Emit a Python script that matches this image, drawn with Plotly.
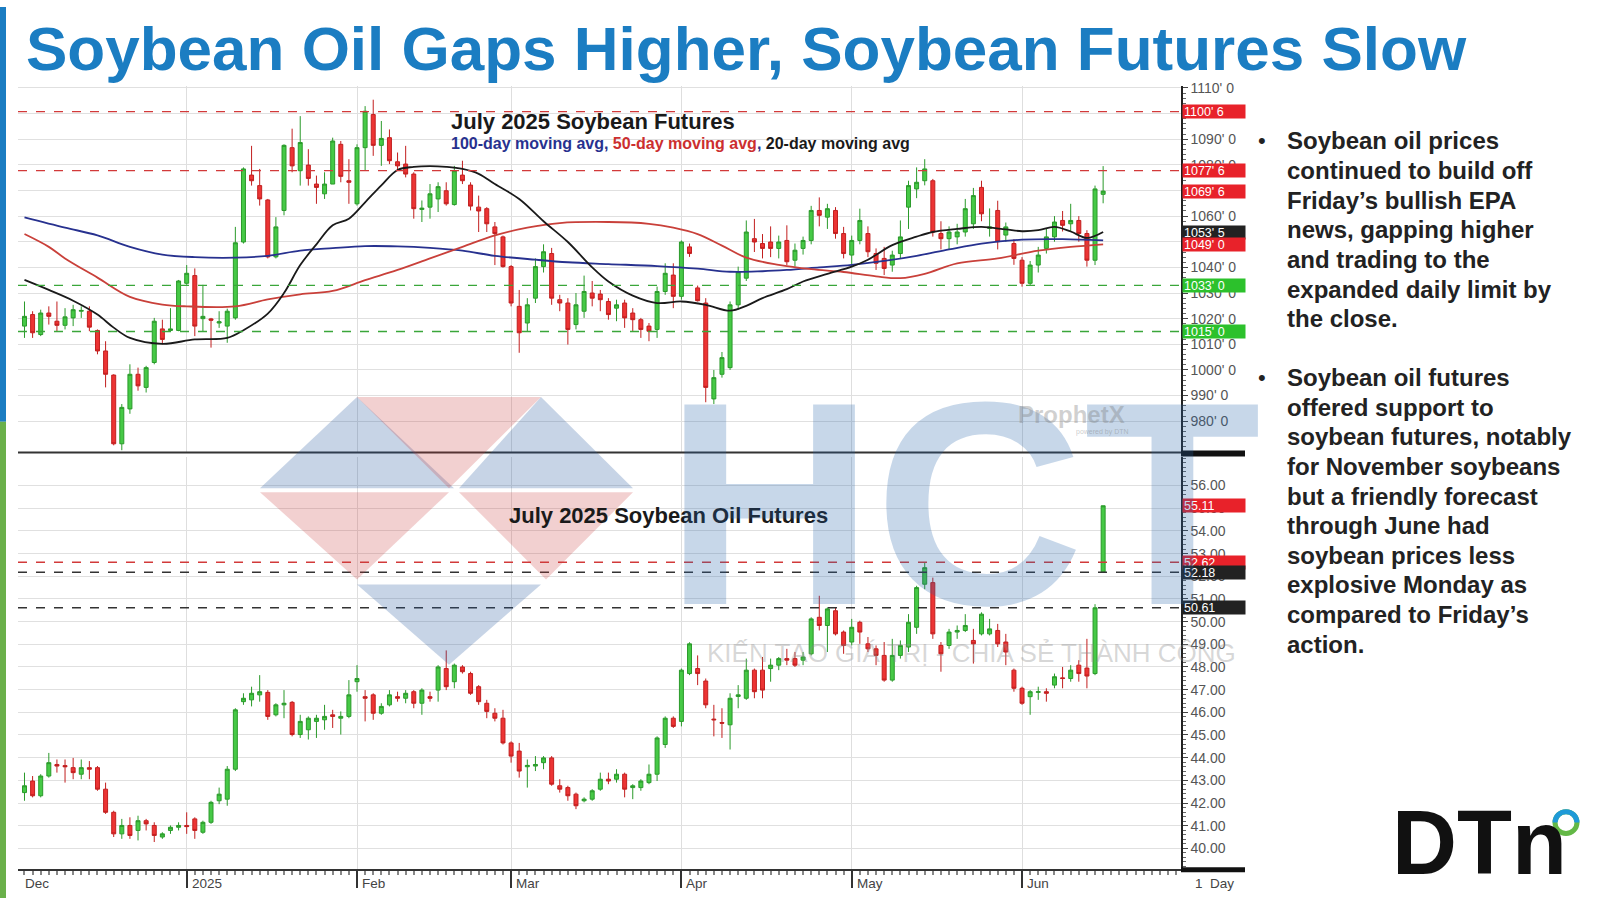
import pandas as pd
import plotly.graph_objects as go

FONT = "Liberation Sans, Arial, sans-serif"
W, H = 1600, 898

# ---------------- calendar (trading days shown on the chart) ----------------
holidays = ["2024-12-25", "2025-01-01", "2025-01-20", "2025-02-17", "2025-04-18", "2025-05-26"]
trade_dates = [d for d in pd.bdate_range("2024-12-03", "2025-06-16") if d.strftime("%Y-%m-%d") not in holidays]
day = list(range(len(trade_dates)))
month_labels = ["2025", "Feb", "Mar", "Apr", "May", "Jun"]

# ---------------- July 2025 Soybean futures (cents/bu) ----------------
soy_open = [
    1017.1, 1021.6, 1013.8, 1022.2, 1019.0, 1017.4, 1020.3, 1022.9, 1022.9, 1015.4,
    1007.4, 998.0, 971.2, 984.8, 998.3, 993.2, 1002.9, 1016.0, 1015.4, 1015.4,
    1033.8, 1036.8, 1020.0, 1019.9, 1018.3, 1017.1, 1020.3, 1049.9, 1076.0, 1071.9,
    1066.3, 1044.1, 1062.2, 1086.7, 1077.7, 1079.9, 1072.5, 1068.7, 1072.5, 1088.0,
    1073.8, 1064.8, 1086.7, 1099.6, 1087.6, 1090.6, 1081.2, 1080.3, 1076.4, 1062.6,
    1063.5, 1066.7, 1069.9, 1064.5, 1076.0, 1072.1, 1063.5, 1062.9, 1055.8, 1051.9,
    1040.3, 1024.8, 1018.3, 1028.0, 1040.3, 1045.4, 1027.4, 1026.1, 1017.7, 1022.9,
    1030.0, 1029.6, 1026.7, 1024.1, 1026.1, 1022.2, 1019.6, 1017.1, 1015.8, 1030.6,
    1037.0, 1028.7, 1048.0, 1032.0, 1026.1, 988.7, 998.3, 1000.9, 1025.4, 1035.8,
    1051.2, 1049.3, 1049.9, 1047.4, 1050.5, 1042.8, 1047.4, 1050.5, 1062.2, 1059.6,
    1062.2, 1053.2, 1044.8, 1050.5, 1053.2, 1045.4, 1043.5, 1040.9, 1045.4, 1063.5,
    1070.6, 1073.8, 1073.8, 1053.2, 1051.2, 1051.9, 1053.8, 1057.0, 1071.2, 1055.2,
    1062.2, 1052.6, 1049.3, 1042.8, 1033.8, 1040.9, 1047.4, 1051.9, 1058.3, 1057.0,
    1058.3, 1053.2, 1042.8, 1068.5]
soy_high = [
    1026.7, 1022.9, 1023.5, 1024.8, 1026.7, 1024.1, 1025.4, 1024.8, 1024.8, 1015.8,
    1011.2, 998.3, 986.7, 1002.2, 1000.9, 1001.6, 1020.3, 1019.6, 1024.1, 1035.1,
    1040.9, 1039.6, 1033.2, 1020.3, 1022.9, 1023.9, 1055.8, 1079.0, 1087.4, 1078.4,
    1066.7, 1059.6, 1088.0, 1094.1, 1099.0, 1086.1, 1075.8, 1077.1, 1090.6, 1089.3,
    1082.2, 1088.0, 1102.9, 1105.4, 1097.1, 1093.8, 1084.8, 1087.4, 1077.1, 1066.1,
    1072.5, 1073.2, 1073.2, 1079.6, 1081.6, 1073.2, 1068.0, 1063.5, 1057.7, 1052.4,
    1040.9, 1031.2, 1028.0, 1043.5, 1049.0, 1047.6, 1029.3, 1028.0, 1030.0, 1036.8,
    1034.7, 1031.2, 1028.0, 1027.4, 1027.4, 1024.1, 1020.3, 1018.3, 1032.5, 1041.6,
    1041.6, 1050.5, 1049.3, 1032.9, 1028.0, 1000.0, 1007.0, 1026.7, 1040.3, 1058.3,
    1058.9, 1053.0, 1056.0, 1052.4, 1056.4, 1049.3, 1052.0, 1064.0, 1067.3, 1064.8,
    1063.5, 1055.8, 1052.4, 1062.9, 1056.0, 1047.4, 1048.0, 1046.5, 1058.3, 1073.8,
    1079.0, 1082.2, 1074.5, 1058.0, 1056.0, 1057.0, 1066.7, 1071.0, 1073.8, 1063.0,
    1066.0, 1057.5, 1051.0, 1044.0, 1042.5, 1048.0, 1055.0, 1060.0, 1062.0, 1064.8,
    1060.0, 1054.5, 1071.9, 1079.5]
soy_low = [
    1012.5, 1012.5, 1013.2, 1017.7, 1015.1, 1015.8, 1017.1, 1020.3, 1015.1, 1006.1,
    993.2, 970.6, 968.7, 982.9, 991.9, 991.2, 1002.2, 1010.0, 1015.1, 1015.1,
    1033.2, 1013.2, 1015.1, 1008.7, 1016.4, 1010.6, 1019.6, 1049.3, 1071.9, 1064.1,
    1043.5, 1043.5, 1060.3, 1077.1, 1071.9, 1071.9, 1064.8, 1066.7, 1072.5, 1073.2,
    1064.8, 1064.1, 1077.7, 1083.5, 1079.6, 1080.3, 1077.7, 1075.1, 1059.0, 1057.7,
    1059.0, 1061.6, 1064.1, 1064.1, 1072.5, 1062.2, 1053.8, 1053.8, 1040.9, 1039.9,
    1024.8, 1006.7, 1015.1, 1026.1, 1038.0, 1025.4, 1022.9, 1009.9, 1015.8, 1020.3,
    1024.8, 1022.9, 1019.6, 1019.0, 1016.4, 1015.1, 1012.5, 1011.2, 1012.5, 1029.3,
    1024.1, 1027.4, 1044.1, 1026.7, 987.4, 986.7, 997.0, 1000.0, 1023.5, 1034.7,
    1046.0, 1043.5, 1044.0, 1043.5, 1040.9, 1040.3, 1045.0, 1049.0, 1056.0, 1055.0,
    1051.2, 1043.5, 1040.3, 1049.0, 1044.0, 1039.0, 1037.0, 1038.3, 1043.5, 1055.0,
    1067.0, 1072.0, 1052.0, 1047.0, 1047.0, 1049.0, 1052.0, 1055.0, 1058.0, 1052.0,
    1047.0, 1050.0, 1041.0, 1032.5, 1033.0, 1038.0, 1045.4, 1050.0, 1054.0, 1054.0,
    1050.0, 1040.3, 1040.9, 1065.0]
soy_close = [
    1020.9, 1014.5, 1022.2, 1020.9, 1017.4, 1020.7, 1023.5, 1023.2, 1016.7, 1007.4,
    998.3, 971.2, 985.4, 998.3, 993.8, 1000.9, 1019.0, 1011.9, 1016.0, 1034.7,
    1037.7, 1017.1, 1020.9, 1019.4, 1018.8, 1022.9, 1049.6, 1078.4, 1073.8, 1066.7,
    1044.1, 1055.8, 1087.6, 1079.6, 1088.7, 1074.7, 1071.2, 1072.5, 1089.3, 1075.5,
    1073.2, 1086.7, 1100.9, 1087.6, 1090.3, 1081.6, 1079.6, 1076.4, 1062.9, 1063.1,
    1068.7, 1071.5, 1064.8, 1077.7, 1073.8, 1063.9, 1062.0, 1057.0, 1053.2, 1040.3,
    1026.1, 1014.5, 1025.4, 1040.3, 1046.1, 1028.0, 1026.1, 1015.8, 1025.4, 1030.6,
    1028.0, 1027.4, 1021.6, 1025.4, 1020.3, 1019.6, 1015.8, 1015.1, 1030.6, 1037.7,
    1028.7, 1049.9, 1045.4, 1027.0, 993.2, 997.0, 1004.8, 1025.4, 1038.3, 1053.8,
    1049.9, 1047.4, 1047.4, 1049.9, 1042.2, 1046.7, 1050.5, 1062.2, 1060.3, 1062.9,
    1053.2, 1045.4, 1050.5, 1058.3, 1046.1, 1041.6, 1039.6, 1044.8, 1051.9, 1071.9,
    1073.2, 1078.4, 1053.8, 1051.2, 1053.8, 1053.8, 1062.9, 1068.0, 1060.9, 1055.8,
    1050.0, 1055.8, 1043.5, 1033.8, 1040.9, 1044.8, 1051.9, 1057.7, 1056.4, 1058.3,
    1053.2, 1042.8, 1070.6, 1069.75]

# moving averages (trading-day index, value)
ma100_days = [0, 5, 9, 13, 17, 21, 26, 30, 34, 38, 42, 46, 50, 54, 58, 63, 67, 72, 78, 83, 87, 91, 94, 98, 102, 106, 110, 114, 118, 123, 128, 133]
ma100_vals = [1059.5, 1055.5, 1052.5, 1048.0, 1045.0, 1044.0, 1043.8, 1044.5, 1046.5, 1047.5, 1048.3, 1048.2, 1047.6, 1046.5, 1044.5, 1043.0, 1042.0, 1041.3, 1040.5, 1039.5, 1038.3, 1038.5, 1039.0, 1040.0, 1041.0, 1042.5, 1044.5, 1047.0, 1049.3, 1050.8, 1051.0, 1050.5]
ma50_days = [0, 3, 5, 9, 13, 17, 20, 26, 30, 34, 38, 42, 46, 50, 54, 58, 62, 66, 72, 77, 80, 83, 86, 89, 93, 97, 101, 105, 108, 111, 115, 120, 125, 129, 133]
ma50_vals = [1053.0, 1048.0, 1043.5, 1036.0, 1028.5, 1025.5, 1024.8, 1024.8, 1027.5, 1029.5, 1030.8, 1035.0, 1039.0, 1043.5, 1048.0, 1052.5, 1055.5, 1057.3, 1057.7, 1057.0, 1055.5, 1053.0, 1048.5, 1043.8, 1041.0, 1039.3, 1038.2, 1036.5, 1035.8, 1037.5, 1041.6, 1043.5, 1046.5, 1048.0, 1049.0]
ma20_days = [0, 3, 6, 9, 11, 13, 17, 21, 25, 27, 30, 32, 34, 36, 38, 40, 42, 44, 46, 48, 50, 52, 54, 56, 58, 61, 64, 67, 70, 72, 75, 78, 81, 84, 87, 89, 91, 94, 96, 99, 102, 104, 107, 110, 112, 115, 118, 121, 123, 125, 127, 129, 131, 133]
ma20_vals = [1035.1, 1031.2, 1027.0, 1021.6, 1016.5, 1012.5, 1010.2, 1011.9, 1012.5, 1015.5, 1022.0, 1030.0, 1040.9, 1049.0, 1056.4, 1059.0, 1065.4, 1072.0, 1078.0, 1079.2, 1079.5, 1079.2, 1078.4, 1076.5, 1072.5, 1066.7, 1058.0, 1049.9, 1040.0, 1034.5, 1029.0, 1026.1, 1026.7, 1025.4, 1023.1, 1025.0, 1028.0, 1031.5, 1034.5, 1037.5, 1040.3, 1043.0, 1048.7, 1052.0, 1053.8, 1055.0, 1055.8, 1054.8, 1054.1, 1054.5, 1055.8, 1054.0, 1051.5, 1053.8]

# ---------------- July 2025 Soybean Oil futures (cents/lb) ----------------
oil_open = [
    42.46, 42.97, 42.32, 43.19, 43.70, 43.65, 43.56, 43.27, 43.56, 43.56,
    42.61, 41.59, 40.64, 41.01, 40.79, 41.22, 41.01, 40.50, 40.79, 40.93,
    41.01, 41.30, 40.71, 41.15, 42.10, 42.17, 43.49, 46.47, 46.55, 46.77,
    46.88, 45.89, 46.33, 46.44, 45.02, 45.23, 45.60, 45.67, 45.89, 45.74,
    45.82, 47.35, 46.69, 46.77, 45.96, 46.33, 46.69, 46.62, 46.91, 46.40,
    46.69, 46.98, 47.93, 47.35, 48.00, 47.71, 47.13, 46.40, 45.96, 45.74,
    44.65, 44.29, 43.60, 43.63, 43.78, 43.99, 42.76, 42.68, 42.39, 42.10,
    42.17, 42.61, 43.05, 43.05, 43.27, 42.68, 42.68, 42.90, 43.27, 44.58,
    45.74, 45.60, 47.71, 47.93, 47.38, 45.70, 45.55, 45.45, 46.70, 46.62,
    47.86, 47.86, 47.93, 48.08, 48.37, 48.37, 48.30, 48.58, 50.19, 49.83,
    50.48, 49.54, 49.10, 49.97, 49.02, 48.80, 48.51, 47.42, 48.51, 48.88,
    49.75, 51.65, 51.72, 48.95, 48.95, 49.54, 49.61, 49.17, 49.46, 49.46,
    49.61, 49.10, 47.86, 47.06, 46.69, 46.88, 46.91, 47.20, 47.52, 47.49,
    48.08, 47.95, 47.71, 52.18]
oil_high = [
    43.34, 43.19, 43.27, 44.21, 43.92, 43.92, 43.99, 43.92, 43.85, 43.63,
    42.90, 41.66, 41.30, 41.37, 41.44, 41.30, 41.15, 40.71, 41.01, 41.15,
    41.59, 41.37, 41.22, 42.10, 42.68, 43.63, 46.18, 46.84, 47.13, 47.64,
    46.98, 46.40, 46.98, 46.50, 45.89, 45.82, 45.89, 46.33, 46.11, 46.04,
    47.42, 48.08, 46.98, 46.84, 46.40, 46.98, 46.91, 46.98, 46.98, 47.06,
    46.91, 48.08, 48.73, 48.15, 48.08, 47.79, 47.20, 46.55, 46.18, 46.11,
    44.72, 44.65, 43.92, 44.07, 44.07, 44.07, 43.05, 42.76, 42.46, 42.25,
    42.61, 43.34, 43.34, 43.49, 43.34, 42.83, 43.05, 43.70, 44.94, 45.82,
    45.82, 47.93, 49.09, 48.51, 47.49, 46.33, 46.18, 46.84, 47.20, 48.37,
    47.93, 48.44, 48.37, 48.44, 48.80, 48.66, 48.66, 50.19, 51.14, 50.63,
    50.63, 49.61, 50.12, 50.04, 49.32, 48.95, 49.10, 49.24, 49.17, 50.33,
    51.58, 52.62, 51.94, 49.10, 49.68, 49.83, 50.33, 49.68, 50.41, 50.12,
    49.90, 49.46, 47.93, 47.13, 46.98, 47.13, 47.06, 47.71, 48.00, 48.08,
    48.30, 49.24, 50.77, 55.11]
oil_low = [
    42.10, 42.25, 42.25, 43.12, 43.34, 42.90, 43.05, 43.05, 43.05, 42.54,
    41.52, 40.50, 40.42, 40.42, 40.35, 40.79, 40.28, 40.42, 40.64, 40.79,
    40.64, 40.42, 40.64, 41.08, 41.95, 41.88, 43.41, 46.33, 46.26, 46.47,
    45.67, 45.82, 45.74, 44.94, 44.87, 44.80, 44.87, 45.23, 45.31, 45.02,
    45.74, 46.91, 45.60, 45.67, 45.89, 46.26, 46.47, 46.40, 46.18, 45.89,
    46.47, 46.47, 46.98, 47.06, 47.71, 46.77, 46.33, 45.74, 45.60, 44.58,
    43.78, 43.12, 42.68, 43.41, 43.49, 42.76, 42.46, 42.10, 41.73, 42.03,
    42.10, 42.54, 42.83, 42.90, 42.25, 42.17, 42.54, 42.83, 42.97, 44.43,
    45.31, 45.38, 47.64, 47.20, 46.18, 44.94, 44.87, 44.36, 46.18, 46.55,
    46.62, 46.62, 47.35, 47.86, 48.08, 48.00, 48.08, 48.51, 49.61, 48.66,
    49.39, 48.58, 48.95, 49.02, 48.66, 48.08, 47.35, 47.35, 48.37, 48.66,
    49.46, 51.43, 49.24, 47.79, 48.80, 49.24, 49.54, 48.15, 49.39, 49.39,
    48.88, 48.08, 46.91, 46.33, 45.89, 46.55, 46.47, 47.06, 47.06, 47.35,
    47.35, 47.06, 47.64, 52.18]
oil_close = [
    42.76, 42.32, 43.19, 43.78, 43.63, 43.60, 43.34, 43.56, 43.49, 42.61,
    41.59, 40.64, 41.01, 40.57, 41.22, 41.08, 40.57, 40.64, 40.93, 41.01,
    40.96, 40.79, 41.15, 42.03, 42.39, 43.49, 46.11, 46.62, 46.84, 46.91,
    45.82, 46.33, 46.40, 45.02, 45.60, 45.74, 45.74, 45.82, 45.82, 45.82,
    46.77, 47.49, 46.62, 45.96, 46.26, 46.77, 46.62, 46.84, 46.40, 46.98,
    46.62, 48.00, 47.13, 48.08, 47.79, 46.84, 46.47, 46.04, 45.74, 44.65,
    44.07, 43.41, 43.66, 43.70, 43.99, 42.83, 42.61, 42.32, 41.88, 42.17,
    42.54, 43.05, 42.97, 43.27, 42.61, 42.76, 42.97, 43.27, 44.87, 45.74,
    45.38, 47.86, 49.02, 47.71, 46.33, 45.67, 45.52, 46.62, 46.77, 47.86,
    46.91, 46.98, 48.08, 48.37, 48.30, 48.08, 48.44, 50.12, 49.83, 50.56,
    49.46, 48.95, 49.75, 49.54, 48.80, 48.51, 47.42, 48.51, 48.95, 49.97,
    51.50, 52.38, 49.46, 48.58, 49.54, 49.61, 49.83, 49.02, 50.33, 49.68,
    49.02, 48.66, 47.06, 46.40, 46.91, 46.91, 46.84, 47.57, 47.49, 47.86,
    47.71, 47.60, 50.61, 55.11]

# reference lines and last-value boxes
soy_lines = [(1100.75, "red"), (1077.75, "red"), (1033.0, "green"), (1015.0, "green")]
soy_boxes = [("1100' 6", 1100.75, "red"), ("1077' 6", 1077.75, "red"), ("1069' 6", 1069.75, "red"),
             ("1053' 5", 1053.625, "black"), ("1049' 0", 1049.0, "red"), ("1033' 0", 1033.0, "green"),
             ("1015' 0", 1015.0, "green")]
oil_lines = [(52.62, "red"), (52.18, "black"), (50.61, "black")]
oil_boxes = [("55.11", 55.11, "red"), ("52.62", 52.62, "red"), ("52.18", 52.18, "black"), ("50.61", 50.61, "black")]

soy_ticks = list(range(980, 1111, 10))
oil_ticks = list(range(40, 57))

bullets = [
    ["Soybean oil prices", "continued to build off", "Friday\u2019s bullish EPA", "news, gapping higher",
     "and trading to the", "expanded daily limit by", "the close."],
    ["Soybean oil futures", "offered support to", "soybean futures, notably", "for November soybeans",
     "but a friendly forecast", "through June had", "soybean prices less", "explosive Monday as",
     "compared to Friday\u2019s", "action."],
]

# ---------------- helpers ----------------
def px(x):
    return x / W


def py(y):
    return 1 - y / H


LINE_COL = {"red": "#d23a3a", "green": "#3aa63a", "black": "#333333"}
BOX_COL = {"red": "#e8222a", "green": "#2cc12c", "black": "#222222"}

X_DOM = [px(18), px(1181)]
TOP_DOM = [py(449), py(80)]
BOT_DOM = [py(869), py(454)]
XR = [-0.8, 142.6]

month_idx = []
for i in range(1, len(trade_dates)):
    if trade_dates[i].month != trade_dates[i - 1].month:
        month_idx.append(i)

fig = go.Figure()

inc = dict(line=dict(color="#2a9a2a", width=1), fillcolor="#46c946")
dec = dict(line=dict(color="#c21f1f", width=1), fillcolor="#ec3434")
hov = [d.strftime("%Y-%m-%d") for d in trade_dates]

fig.add_trace(go.Candlestick(x=day, open=soy_open, high=soy_high, low=soy_low, close=soy_close,
                             increasing=inc, decreasing=dec, whiskerwidth=0, text=hov,
                             xaxis="x", yaxis="y", showlegend=False, name="Soybeans"))
for d, v, c, nm in [(ma100_days, ma100_vals, "#27318f", "100-day"),
                    (ma50_days, ma50_vals, "#c9403a", "50-day"),
                    (ma20_days, ma20_vals, "#1a1a1a", "20-day")]:
    fig.add_trace(go.Scatter(x=d, y=v, mode="lines", line=dict(color=c, width=1.8, shape="spline", smoothing=1.0),
                             xaxis="x", yaxis="y", showlegend=False, name=nm, hoverinfo="skip"))

fig.add_trace(go.Candlestick(x=day, open=oil_open, high=oil_high, low=oil_low, close=oil_close,
                             increasing=inc, decreasing=dec, whiskerwidth=0, text=hov,
                             xaxis="x2", yaxis="y2", showlegend=False, name="Soybean Oil"))

TICKFONT = dict(family=FONT, size=14, color="#555")
axis_common = dict(range=XR, domain=X_DOM, tickmode="array", tickvals=month_idx,
                   showgrid=True, gridcolor="#dedede", gridwidth=1.2, zeroline=False,
                   rangeslider=dict(visible=False))
fig.update_layout(
    xaxis=dict(**axis_common, anchor="y", showticklabels=False, ticks=""),
    xaxis2=dict(**axis_common, anchor="y2", showticklabels=False, ticks="outside", ticklen=17,
                tickwidth=1.5, tickcolor="#333", showline=True, linecolor="#333", linewidth=1.5,
                minor=dict(dtick=1, tick0=0, ticks="outside", ticklen=4, tickcolor="#888", showgrid=False)),
    yaxis=dict(domain=TOP_DOM, anchor="x", side="right", range=[967.8, 1110.6], tickmode="array",
               tickvals=soy_ticks, ticktext=[f"{v}' 0" for v in soy_ticks], showgrid=True,
               gridcolor="#e0e0e0", gridwidth=1.2, zeroline=False, ticks="outside", ticklen=5,
               tickcolor="#444", showline=True, linecolor="#222", linewidth=1.5, tickfont=TICKFONT,
               minor=dict(dtick=2, tick0=0, ticks="outside", ticklen=3, tickcolor="#666", showgrid=False)),
    yaxis2=dict(domain=BOT_DOM, anchor="x2", side="right", range=[39.08, 57.24], tickmode="array",
                tickvals=oil_ticks, ticktext=[f"{v:.2f}" for v in oil_ticks], showgrid=True,
                gridcolor="#e0e0e0", gridwidth=1.2, zeroline=False, ticks="outside", ticklen=5,
                tickcolor="#444", showline=True, linecolor="#222", linewidth=1.5, tickfont=TICKFONT,
                minor=dict(dtick=0.2, tick0=0, ticks="outside", ticklen=3, tickcolor="#666", showgrid=False)),
    width=W, height=H, margin=dict(l=0, r=0, t=0, b=0),
    paper_bgcolor="white", plot_bgcolor="white",
    font=dict(family=FONT), showlegend=False,
)

shapes = []
# dashed reference lines
for v, c in soy_lines:
    shapes.append(dict(type="line", xref="x domain", yref="y", x0=0, x1=1, y0=v, y1=v,
                       line=dict(color=LINE_COL[c], width=1.4, dash="dash")))
for v, c in oil_lines:
    shapes.append(dict(type="line", xref="x2 domain", yref="y2", x0=0, x1=1, y0=v, y1=v,
                       line=dict(color=LINE_COL[c], width=1.4, dash="dash")))
# panel separators and axis bars
shapes.append(dict(type="line", xref="paper", yref="paper", x0=px(18), x1=px(1243), y0=py(449), y1=py(449),
                   line=dict(color="#333", width=2)))
shapes.append(dict(type="rect", xref="paper", yref="paper", x0=px(1181), x1=px(1245), y0=py(447), y1=py(453),
                   line=dict(width=0), fillcolor="#111"))
shapes.append(dict(type="rect", xref="paper", yref="paper", x0=px(1181), x1=px(1245), y0=py(867), y1=py(872),
                   line=dict(width=0), fillcolor="#111"))
# left colour bar
shapes.append(dict(type="rect", xref="paper", yref="paper", x0=0, x1=px(6), y0=py(418), y1=1,
                   line=dict(width=0), fillcolor="#1b7dc2"))
shapes.append(dict(type="rect", xref="paper", yref="paper", x0=0, x1=px(6), y0=0, y1=py(418),
                   line=dict(width=0), fillcolor="#6ab04a"))


# watermark triangles (HCT logo)
def tri(pts, col):
    p = "M " + " L ".join(f"{px(a):.5f} {py(b):.5f}" for a, b in pts) + " Z"
    return dict(type="path", xref="paper", yref="paper", path=p, fillcolor=col, line=dict(width=0), layer="above")


BLUE_W = "rgba(40,90,160,0.26)"
RED_W = "rgba(200,60,60,0.24)"
shapes += [
    tri([(260, 485), (454, 485), (357, 393)], BLUE_W),
    tri([(357, 393), (541, 393), (449, 485)], RED_W),
    tri([(459, 485), (633, 485), (541, 393)], BLUE_W),
    tri([(260, 489), (449, 489), (357, 577)], RED_W),
    tri([(459, 489), (633, 489), (546, 577)], RED_W),
    tri([(357, 582), (541, 582), (449, 663)], BLUE_W),
]

# DTN ring: green full circle with a blue upper half on top
cx, cy, r = 1566, 822, 11
k = 0.5523 * r
shapes.append(dict(type="circle", xref="paper", yref="paper", x0=px(cx - r), x1=px(cx + r), y0=py(cy + r),
                   y1=py(cy - r), line=dict(color="#63b846", width=5)))
arc = (f"M {px(cx - r):.5f} {py(cy):.5f} "
       f"C {px(cx - r):.5f} {py(cy - k):.5f} {px(cx - k):.5f} {py(cy - r):.5f} {px(cx):.5f} {py(cy - r):.5f} "
       f"C {px(cx + k):.5f} {py(cy - r):.5f} {px(cx + r):.5f} {py(cy - k):.5f} {px(cx + r):.5f} {py(cy):.5f}")
shapes.append(dict(type="path", xref="paper", yref="paper", path=arc, line=dict(color="#1f9ad8", width=5)))
fig.update_layout(shapes=shapes)

ann = []
# title
ann.append(dict(text="<b>Soybean Oil Gaps Higher, Soybean Futures Slow</b>", x=px(24), y=py(42),
                xref="paper", yref="paper", xanchor="left", yanchor="middle", showarrow=False,
                font=dict(family=FONT, size=62, color="#1b7dc2")))
# chart headings
ann.append(dict(text="<b>July 2025 Soybean Futures</b>", x=px(449), y=py(115), xref="paper", yref="paper",
                xanchor="left", yanchor="middle", showarrow=False, font=dict(family=FONT, size=22, color="#1a1a1a")))
ann.append(dict(text="<b><span style='color:#27318f'>100-day moving avg</span>, <span style='color:#cc2f2f'>50-day moving avg</span>, <span style='color:#1a1a1a'>20-day moving avg</span></b>",
                x=px(449), y=py(138), xref="paper", yref="paper", xanchor="left", yanchor="middle",
                showarrow=False, font=dict(family=FONT, size=16, color="#27318f")))
ann.append(dict(text="<b>July 2025 Soybean Oil Futures</b>", x=px(507), y=py(512), xref="paper", yref="paper",
                xanchor="left", yanchor="middle", showarrow=False, font=dict(family=FONT, size=22, color="#1a1a1a")))
# price boxes
for txt, v, c in soy_boxes:
    ann.append(dict(text=txt, x=px(1182), y=v, xref="paper", yref="y", xanchor="left", yanchor="middle",
                    showarrow=False, bgcolor=BOX_COL[c], width=60, height=11, borderpad=1, align="left",
                    font=dict(family=FONT, size=12.5, color="white")))
for txt, v, c in oil_boxes:
    ann.append(dict(text=txt, x=px(1182), y=v, xref="paper", yref="y2", xanchor="left", yanchor="middle",
                    showarrow=False, bgcolor=BOX_COL[c], width=60, height=11, borderpad=1, align="left",
                    font=dict(family=FONT, size=12.5, color="white")))
# x labels
XFONT = dict(family=FONT, size=13.5, color="#444")
ann.append(dict(text="Dec", x=-0.2, y=py(883), xref="x2", yref="paper", xanchor="left", yanchor="middle",
                showarrow=False, font=XFONT))
for i, lab in zip(month_idx, month_labels):
    ann.append(dict(text=lab, x=i, y=py(883), xref="x2", yref="paper", xanchor="left", yanchor="middle",
                    xshift=3, showarrow=False, font=XFONT))
ann.append(dict(text="1  Day", x=px(1193), y=py(883), xref="paper", yref="paper", xanchor="left", yanchor="middle",
                showarrow=False, font=XFONT))
# bullets
starts = [135, 373.5]
for blk, y0 in zip(bullets, starts):
    ann.append(dict(text="\u2022", x=px(1256), y=py(y0), xref="paper", yref="paper", xanchor="left",
                    yanchor="middle", showarrow=False, font=dict(family=FONT, size=22, color="#222")))
    for k2, line in enumerate(blk):
        ann.append(dict(text=f"<b>{line}</b>", x=px(1285), y=py(y0 + 29.85 * k2), xref="paper", yref="paper",
                        xanchor="left", yanchor="middle", showarrow=False,
                        font=dict(family=FONT, size=24, color="#222")))
# DTN logo
ann.append(dict(text="<b>DTn</b>", x=px(1390), y=py(843), xref="paper", yref="paper", xanchor="left",
                yanchor="middle", showarrow=False, font=dict(family=FONT, size=90, color="#111")))
# watermark texts
ann.append(dict(text="<b>HCT</b>", x=px(963), y=py(500), xref="paper", yref="paper", xanchor="center",
                yanchor="middle", showarrow=False, font=dict(family=FONT, size=290, color="rgba(40,100,170,0.26)")))
ann.append(dict(text="KI\u1ebeN T\u1ea0O GI\u00c1 TR\u1eca - CHIA S\u1eba TH\u00c0NH C\u00d4NG", x=px(971), y=py(651),
                xref="paper", yref="paper", xanchor="center", yanchor="middle", showarrow=False,
                font=dict(family=FONT, size=26, color="rgba(140,140,140,0.35)")))
ann.append(dict(text="<b>ProphetX</b>", x=px(1071), y=py(411), xref="paper", yref="paper", xanchor="center",
                yanchor="middle", showarrow=False, font=dict(family=FONT, size=24, color="rgba(120,120,120,0.35)")))
ann.append(dict(text="powered by DTN", x=px(1102), y=py(428), xref="paper", yref="paper", xanchor="center",
                yanchor="middle", showarrow=False, font=dict(family=FONT, size=7, color="rgba(120,120,120,0.4)")))
fig.update_layout(annotations=ann)

fig.write_html("out.html", config={"displayModeBar": False},
               post_script="document.body.style.margin='0px';")
